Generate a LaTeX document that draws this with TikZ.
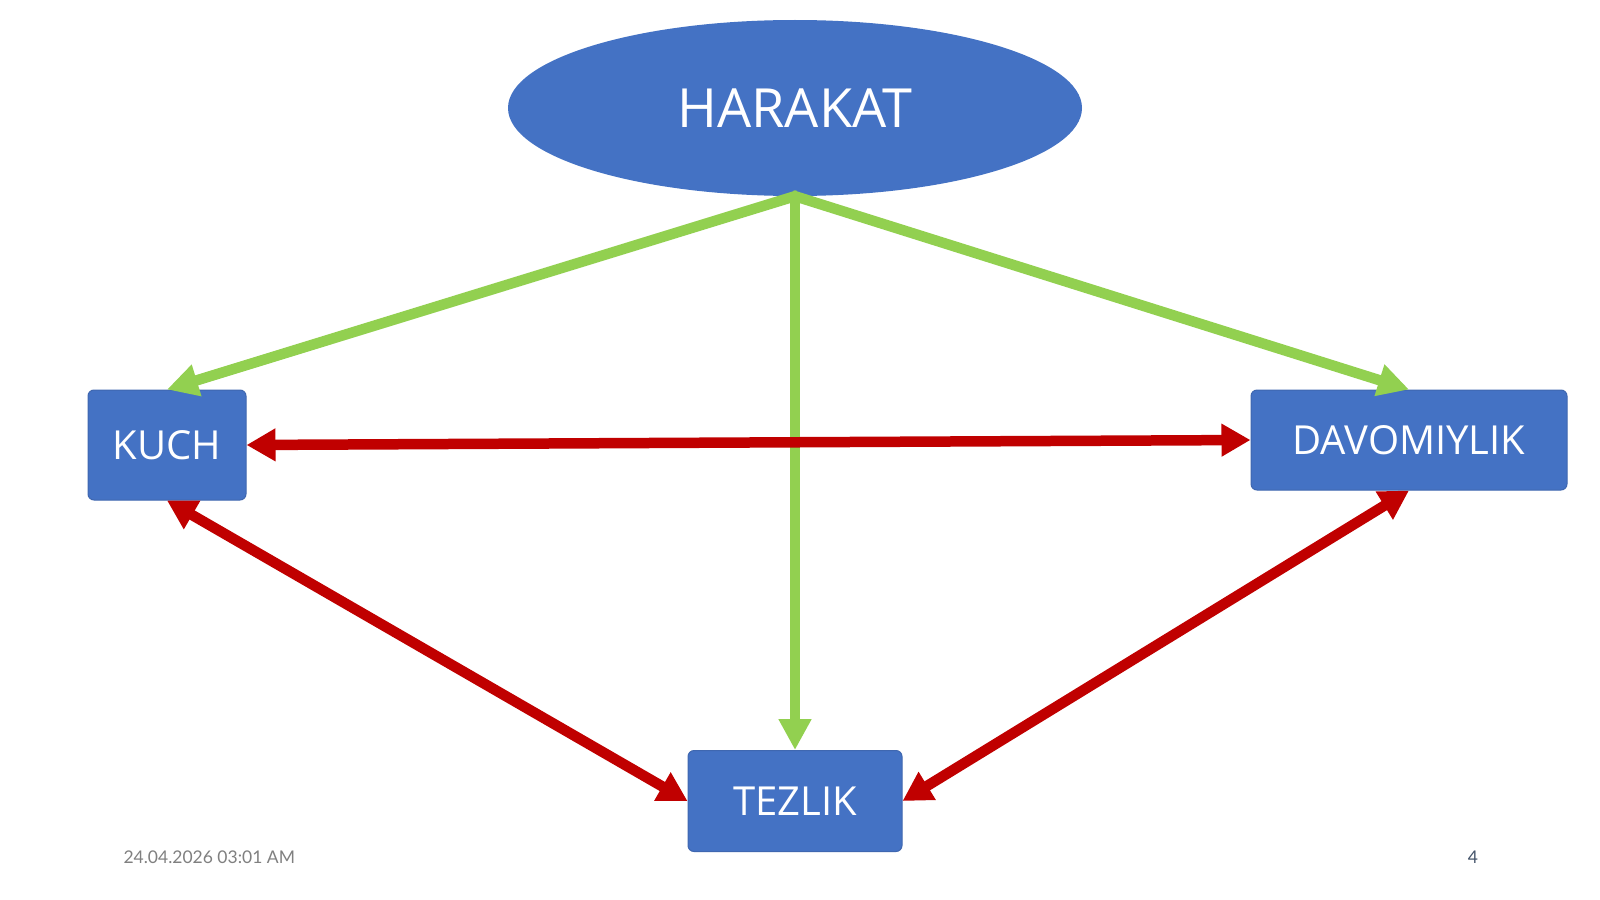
\documentclass[tikz,border=0pt]{standalone}
\usepackage{fontspec}
\setmainfont{Open Sans}
\newfontfamily\footfont{Lato}
\usetikzlibrary{arrows.meta,shapes.geometric}
\definecolor{boxblue}{HTML}{4472C4}
\definecolor{boxline}{HTML}{3F67B0}
\definecolor{linkgreen}{HTML}{92D050}
\definecolor{linkred}{HTML}{C00000}
\definecolor{pagegray}{HTML}{44546A}
\tikzset{
  topic/.style={fill=boxblue, draw=boxline, line width=1pt, rounded corners=6pt,
    text=white, inner sep=0pt, font=\fontsize{40}{44}\selectfont},
  gives/.style={draw=linkgreen, line width=10.5pt,
    -{Triangle[length=31pt,width=31pt]}, shorten <=-3pt},
  bond/.style={draw=linkred, line width=10.5pt,
    {Triangle[length=29pt,width=31pt]}-{Triangle[length=29pt,width=31pt]}}
}

\begin{document}
\begin{tikzpicture}[x=1pt,y=-1pt]

\useasboundingbox[fill=white] (0,0) rectangle (1600,899);

% main idea
\node[ellipse, fill=boxblue, inner sep=0pt, minimum width=574pt, minimum height=176pt,
  text=white, font=\fontsize{54}{60}\selectfont] (harakat) at (795,108) {HARAKAT};

% the three quantities
\node[topic, minimum width=158pt, minimum height=110pt] (kuch) at (167,445) {KUCH};
\node[topic, minimum width=316pt, minimum height=100pt] (davomiylik) at (1409,440) {DAVOMIYLIK};
\node[topic, minimum width=214pt, minimum height=101pt] (tezlik) at (795,801) {TEZLIK};

% green arrows from the top
\draw[gives] (harakat.south) -- (kuch.north);
\draw[gives] (harakat.south) -- (davomiylik.north);
\draw[gives] (harakat.south) -- (tezlik.north);

% red links between them
\draw[bond] (kuch.east) -- (davomiylik.west);
\draw[bond] (kuch.south) -- (tezlik.west);
\draw[bond] (davomiylik.south) -- (tezlik.east);

% footer
\node[anchor=west, text=gray, font=\footfont\fontsize{17.5}{20}\selectfont] (date) at (120,857) {24.04.2026 03:01 AM};
\node[text=pagegray, font=\footfont\fontsize{17.5}{20}\selectfont] (page) at (1473,857) {4};

\end{tikzpicture}
\end{document}
